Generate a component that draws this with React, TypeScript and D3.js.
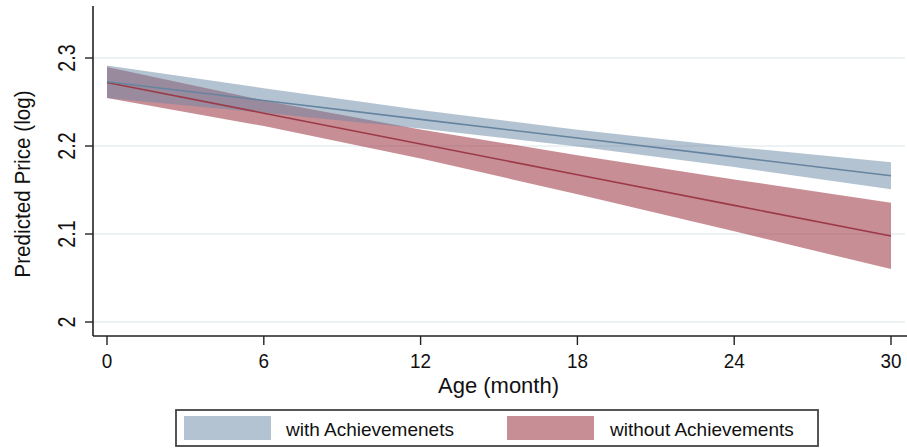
import React from "react";
import * as d3 from "d3";

const ages = [0, 6, 12, 18, 24, 30];
const withFit = [2.2731, 2.2517, 2.2303, 2.209, 2.1876, 2.1662];
const withLo = [2.2545, 2.2377, 2.2198, 2.1995, 2.1762, 2.1509];
const withHi = [2.2916, 2.2657, 2.2408, 2.2184, 2.199, 2.1816];
const withoutFit = [2.2722, 2.2373, 2.2023, 2.1674, 2.1325, 2.0977];
const withoutLo = [2.2545, 2.2227, 2.1858, 2.1452, 2.103, 2.0602];
const withoutHi = [2.2898, 2.2518, 2.2188, 2.1895, 2.162, 2.1356];
const xTicks = [0, 6, 12, 18, 24, 30];
const yTicks = [2, 2.1, 2.2, 2.3];
const yTickLabels = ["2", "2.1", "2.2", "2.3"];
const legendLabels = ["with Achievemenets", "without Achievements"];

const W = 907;
const H = 448;
const FONT = "'Liberation Sans', Arial, Helvetica, sans-serif";

export default function App() {
  const x = d3.scaleLinear().domain([0, 30]).range([107, 891]);
  const y = d3.scaleLinear().domain([2.0, 2.3]).range([322, 58]);
  const axisLeft = 93;
  const axisBottom = 336;

  const idx = ages.map((_, i) => i);
  const area = (lo: number[], hi: number[]) =>
    d3
      .area<number>()
      .x((i) => x(ages[i]))
      .y0((i) => y(lo[i]))
      .y1((i) => y(hi[i]))(idx) || "";
  const line = (v: number[]) =>
    d3
      .line<number>()
      .x((i) => x(ages[i]))
      .y((i) => y(v[i]))(idx) || "";

  const blueFill = "#6a87a3";
  const redFill = "#9b3240";
  const blueLine = "#66849f";
  const redLine = "#9c3a47";

  return (
    <svg
      width={W}
      height={H}
      style={{ position: "absolute", left: 0, top: 0, background: "#fff" }}
      fontFamily={FONT}
    >
      <rect x={0} y={0} width={W} height={H} fill="#fff" />
      {yTicks.map((t) => (
        <line
          key={"g" + t}
          x1={axisLeft}
          x2={905}
          y1={y(t)}
          y2={y(t)}
          stroke="#e7eff1"
          strokeWidth={1.5}
        />
      ))}
      <path d={area(withoutLo, withoutHi)} fill={redFill} fillOpacity={0.55} />
      <path d={area(withLo, withHi)} fill={blueFill} fillOpacity={0.5} />
      <path d={line(withoutFit)} fill="none" stroke={redLine} strokeWidth={1.6} />
      <path d={line(withFit)} fill="none" stroke={blueLine} strokeWidth={1.6} />
      <line x1={axisLeft} x2={axisLeft} y1={6} y2={axisBottom} stroke="#222" strokeWidth={1.6} />
      <line x1={axisLeft} x2={907} y1={axisBottom} y2={axisBottom} stroke="#222" strokeWidth={1.6} />
      {yTicks.map((t, i) => (
        <g key={"yt" + t}>
          <line x1={85} x2={axisLeft} y1={y(t)} y2={y(t)} stroke="#222" strokeWidth={1.4} />
          <text
            transform={`translate(75,${y(t)}) rotate(-90) scale(0.82,1)`}
            textAnchor="middle"
            fontSize={24}
            fill="#111"
          >
            {yTickLabels[i]}
          </text>
        </g>
      ))}
      {xTicks.map((t) => (
        <g key={"xt" + t}>
          <line x1={x(t)} x2={x(t)} y1={axisBottom} y2={345} stroke="#222" strokeWidth={1.4} />
          <text
            transform={`translate(${x(t)},368) scale(0.9,1)`}
            textAnchor="middle"
            fontSize={21}
            fill="#111"
          >
            {t}
          </text>
        </g>
      ))}
      <text x={498.5} y={393} textAnchor="middle" fontSize={22} fill="#111">
        Age (month)
      </text>
      <text
        transform={`translate(30,184) rotate(-90) scale(0.94,1)`}
        textAnchor="middle"
        fontSize={22}
        fill="#111"
      >
        Predicted Price (log)
      </text>
      <rect x={176} y={410} width={642} height={36} fill="#fff" stroke="#444" strokeWidth={1.8} />
      <rect x={184} y={416} width={87} height={24} fill={blueFill} fillOpacity={0.5} />
      <text x={286} y={436} fontSize={19} fill="#111">
        {legendLabels[0]}
      </text>
      <rect x={507} y={416} width={87} height={24} fill={redFill} fillOpacity={0.55} />
      <text x={610} y={436} fontSize={19} fill="#111">
        {legendLabels[1]}
      </text>
    </svg>
  );
}
